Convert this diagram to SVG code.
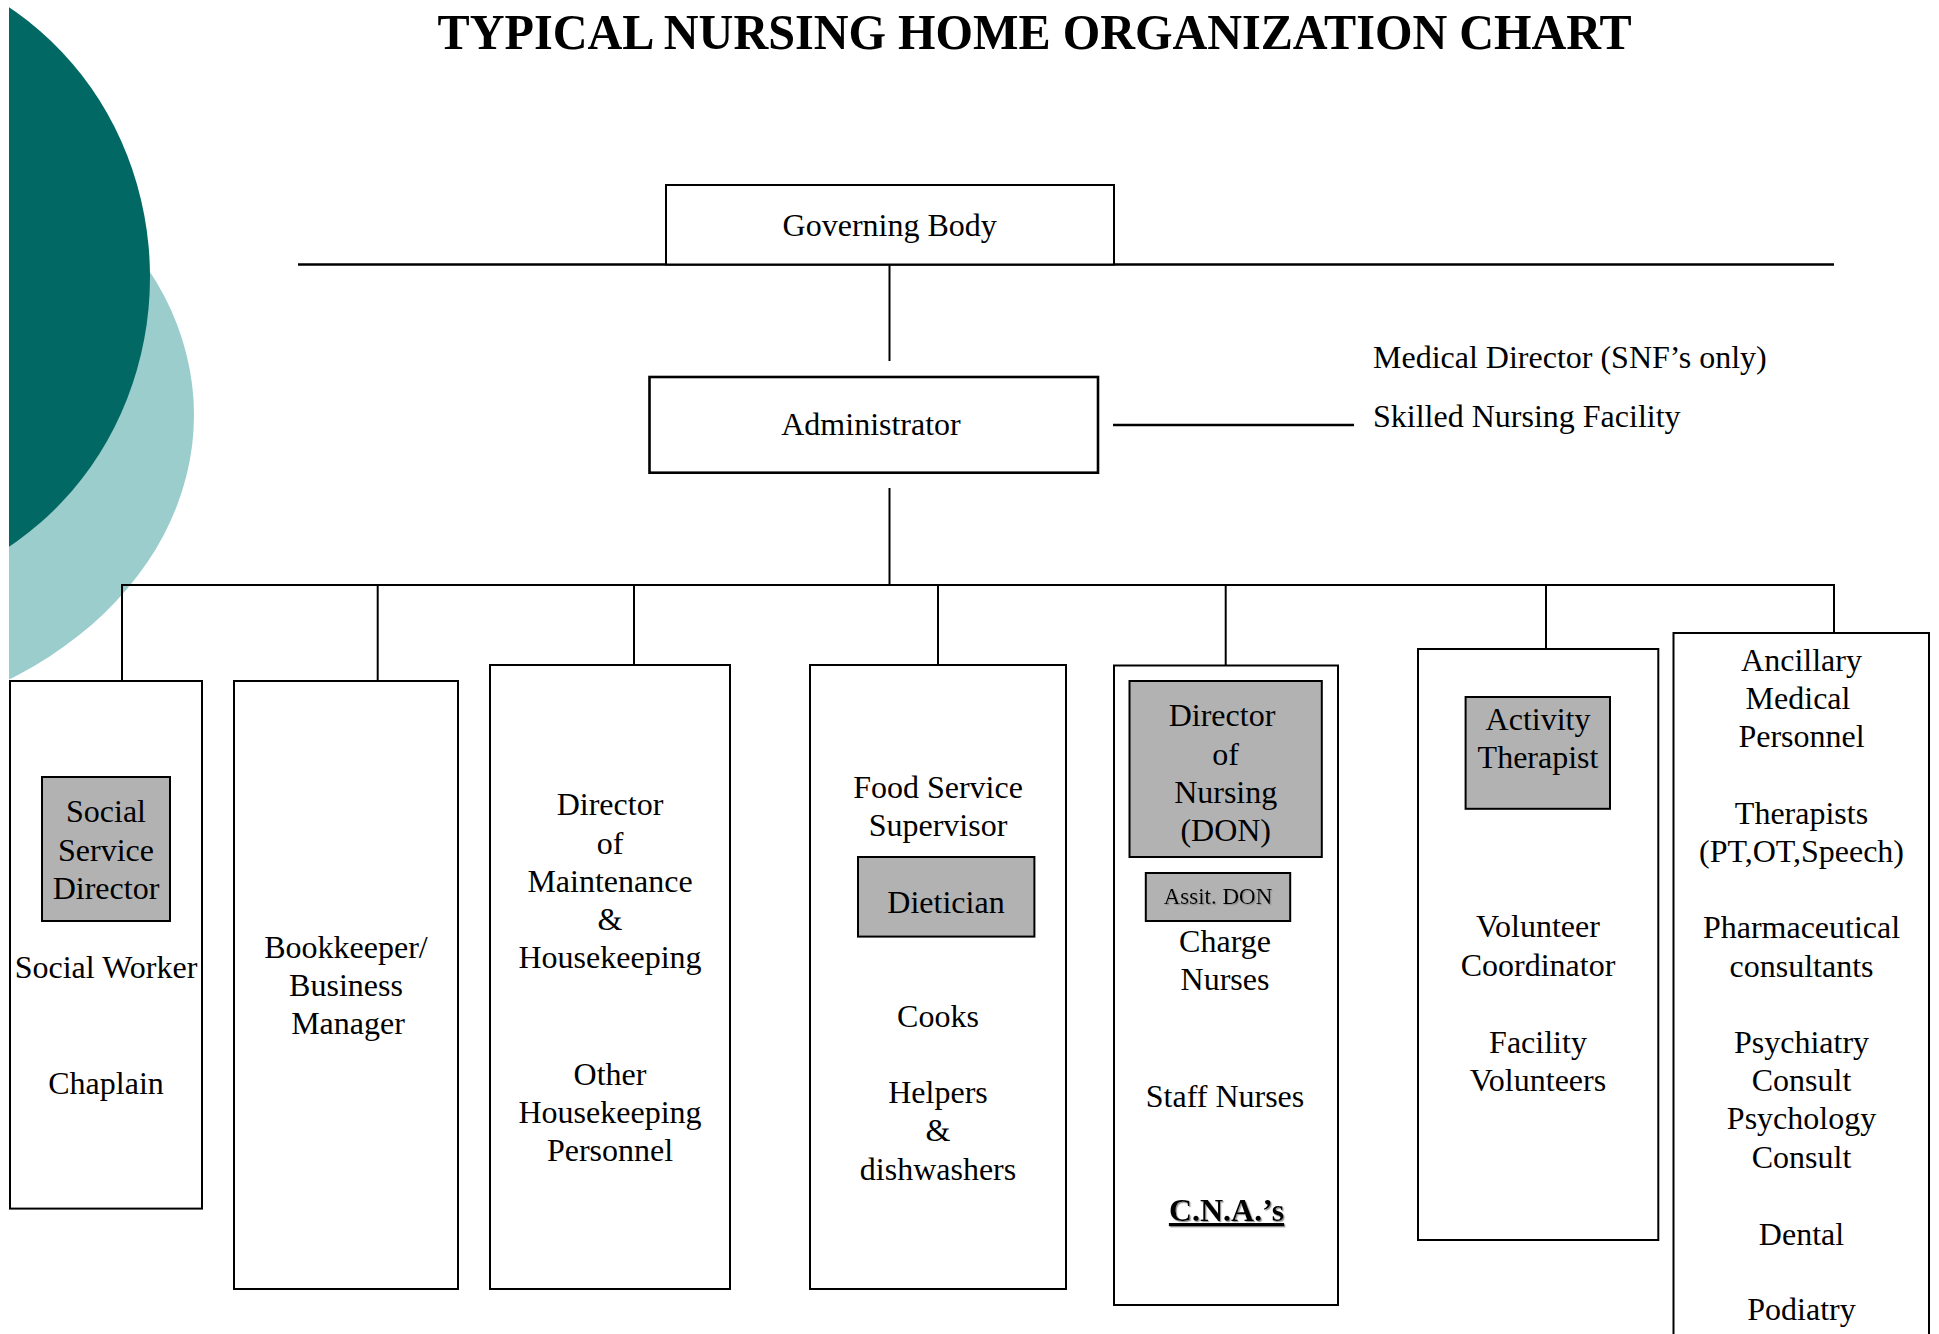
<svg xmlns="http://www.w3.org/2000/svg" width="1939" height="1334" viewBox="0 0 1939 1334">
  <defs>
    <style>
      .box { fill: #ffffff; stroke: #000000; stroke-width: 2; }
      .role { fill: #b2b2b2; stroke: #000000; stroke-width: 2; }
      .heavy { stroke-width: 2.6; }
      .t { font-family: "Liberation Serif", "Times New Roman", serif; font-size: 32px; fill: #000000; text-anchor: middle; }
      .note { text-anchor: start; }
      .small { font-size: 23px; }
      .bold { font-weight: bold; }
      .ul { text-decoration: underline; }
      #connectors line { stroke: #000000; stroke-width: 2; stroke-linecap: butt; }
      #connectors line.thick { stroke-width: 2.6; }
    </style>
    <clipPath id="slide-area">
      <rect x="9" y="0" width="1930" height="1334"/>
    </clipPath>
    <filter id="soft-shadow" x="-10%" y="-20%" width="130%" height="150%">
      <feDropShadow dx="1.2" dy="1.2" stdDeviation="0.6" flood-color="#8a8a8a" flood-opacity="0.9"/>
    </filter>
  </defs>

  <rect x="0" y="0" width="1939" height="1334" fill="#ffffff"/>

  <!-- decorative ovals at the left edge -->
  <g id="backdrop" clip-path="url(#slide-area)">
    <ellipse cx="-200" cy="415" rx="394" ry="312" fill="#9bcdcd"/>
    <ellipse cx="-150" cy="277" rx="300" ry="318" fill="#026864"/>
  </g>

  <text id="title" class="t bold" x="1034.6" y="49.3" style="font-size:50px" textLength="1194" lengthAdjust="spacingAndGlyphs">TYPICAL NURSING HOME ORGANIZATION CHART</text>

  <!-- connector lines -->
  <g id="connectors">
    <line class="thick" x1="298" y1="264.5" x2="1834" y2="264.5"/>
    <line x1="889.5" y1="264" x2="889.5" y2="361"/>
    <line class="thick" x1="1113" y1="425" x2="1354" y2="425"/>
    <line x1="889.5" y1="488" x2="889.5" y2="585"/>
    <line x1="121" y1="585" x2="1835" y2="585"/>
    <line x1="122" y1="585" x2="122" y2="681"/>
    <line x1="377.7" y1="585" x2="377.7" y2="681"/>
    <line x1="634" y1="585" x2="634" y2="665"/>
    <line x1="938" y1="585" x2="938" y2="665"/>
    <line x1="1225.7" y1="585" x2="1225.7" y2="665"/>
    <line x1="1546" y1="585" x2="1546" y2="649"/>
    <line x1="1834" y1="585" x2="1834" y2="633"/>
  </g>

  <g id="governing-body">
    <rect class="box" x="666" y="185" width="448" height="79.5"/>
    <text class="t" x="889.7" y="236">Governing Body</text>
  </g>

  <g id="administrator">
    <rect class="box heavy" x="649.5" y="377" width="448.5" height="95.7"/>
    <text class="t" x="871" y="435">Administrator</text>
  </g>

  <g id="medical-director">
    <text class="t note" x="1373" y="368">Medical Director (SNF’s only)</text>
    <text class="t note" x="1373" y="427">Skilled Nursing Facility</text>
  </g>

  <g id="social-services">
    <rect class="box" x="10" y="681" width="192" height="527.6"/>
    <rect class="role" x="42" y="777" width="128" height="144"/>
    <text class="t" x="106" y="822">Social</text>
    <text class="t" x="106" y="860.5">Service</text>
    <text class="t" x="106" y="899">Director</text>
    <text class="t" x="106" y="978">Social Worker</text>
    <text class="t" x="106" y="1094">Chaplain</text>
  </g>

  <g id="business-office">
    <rect class="box" x="234" y="681" width="224" height="608"/>
    <text class="t" x="346" y="958">Bookkeeper/</text>
    <text class="t" x="346" y="996">Business</text>
    <text class="t" x="348" y="1034">Manager</text>
  </g>

  <g id="maintenance">
    <rect class="box" x="490" y="665" width="240" height="624"/>
    <text class="t" x="610" y="815">Director</text>
    <text class="t" x="610" y="853.5">of</text>
    <text class="t" x="610" y="892">Maintenance</text>
    <text class="t" x="610" y="930">&amp;</text>
    <text class="t" x="610" y="968">Housekeeping</text>
    <text class="t" x="610" y="1084.5">Other</text>
    <text class="t" x="610" y="1122.5">Housekeeping</text>
    <text class="t" x="610" y="1160.5">Personnel</text>
  </g>

  <g id="food-service">
    <rect class="box" x="810" y="665" width="256" height="624"/>
    <text class="t" x="938" y="797.6">Food Service</text>
    <text class="t" x="938" y="835.6">Supervisor</text>
    <rect class="role" x="858" y="857" width="176.4" height="79.6"/>
    <text class="t" x="946" y="913">Dietician</text>
    <text class="t" x="938" y="1027.4">Cooks</text>
    <text class="t" x="938" y="1103">Helpers</text>
    <text class="t" x="938" y="1141">&amp;</text>
    <text class="t" x="938" y="1179.5">dishwashers</text>
  </g>

  <g id="nursing">
    <rect class="box" x="1114" y="665.5" width="224" height="639.5"/>
    <rect class="role" x="1129.5" y="681" width="192.3" height="176"/>
    <text class="t" x="1222" y="726.4">Director</text>
    <text class="t" x="1225.7" y="764.6">of</text>
    <text class="t" x="1225.7" y="802.8">Nursing</text>
    <text class="t" x="1225.7" y="841">(DON)</text>
    <rect class="role" x="1145.8" y="873" width="144.4" height="48"/>
    <text class="t small" x="1218" y="903.5" filter="url(#soft-shadow)">Assit. DON</text>
    <text class="t" x="1225" y="952">Charge</text>
    <text class="t" x="1225" y="990">Nurses</text>
    <text class="t" x="1225" y="1106.7">Staff Nurses</text>
    <text class="t bold ul" x="1226.5" y="1221" filter="url(#soft-shadow)">C.N.A.’s</text>
  </g>

  <g id="activities">
    <rect class="box" x="1418" y="649" width="240.3" height="591"/>
    <rect class="role" x="1465.6" y="697" width="144.4" height="111.8"/>
    <text class="t" x="1538" y="730">Activity</text>
    <text class="t" x="1538" y="768">Therapist</text>
    <text class="t" x="1538" y="937">Volunteer</text>
    <text class="t" x="1538" y="975.5">Coordinator</text>
    <text class="t" x="1538" y="1052.5">Facility</text>
    <text class="t" x="1538" y="1090.5">Volunteers</text>
  </g>

  <g id="ancillary-medical">
    <rect class="box" x="1673.5" y="633" width="255.5" height="712"/>
    <text class="t" x="1801.5" y="671">Ancillary</text>
    <text class="t" x="1798" y="709.2">Medical</text>
    <text class="t" x="1801.5" y="747.4">Personnel</text>
    <text class="t" x="1801.5" y="823.8">Therapists</text>
    <text class="t" x="1801.5" y="862">(PT,OT,Speech)</text>
    <text class="t" x="1801.5" y="938.4">Pharmaceutical</text>
    <text class="t" x="1801.5" y="976.6">consultants</text>
    <text class="t" x="1801.5" y="1053">Psychiatry</text>
    <text class="t" x="1801.5" y="1091.2">Consult</text>
    <text class="t" x="1801.5" y="1129.4">Psychology</text>
    <text class="t" x="1801.5" y="1167.6">Consult</text>
    <text class="t" x="1801.5" y="1245">Dental</text>
    <text class="t" x="1801.5" y="1320.4">Podiatry</text>
  </g>
</svg>
